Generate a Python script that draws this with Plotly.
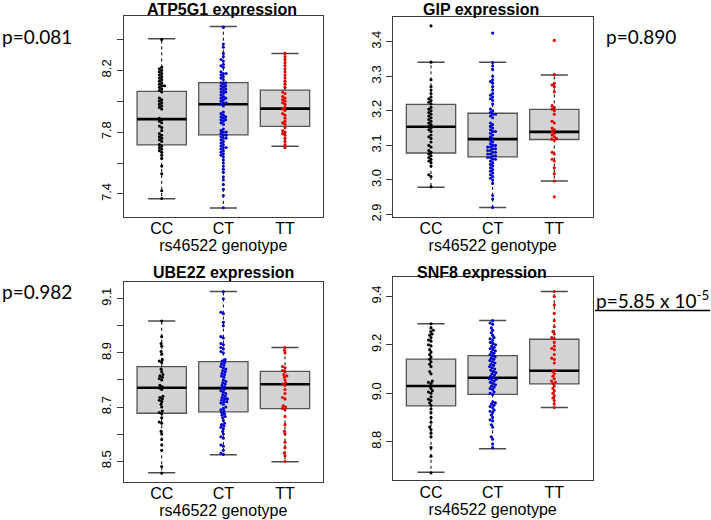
import numpy as np
import plotly.graph_objects as go

W, H = 711, 520
GENOTYPES = ["CC", "CT", "TT"]
POSITIONS = [1, 2, 3]
GROUP_COLORS = ["#000000", "#0000d2", "#e00000"]
X_LABEL = "rs46522 genotype"

# ---------------- ATP5G1 ----------------
ATP5G1_CC = [8.40, 8.22, 8.21, 8.20, 8.19, 8.18, 8.17, 8.16, 8.15, 8.14, 8.13, 8.12, 8.11, 8.10, 8.10,
             8.09, 8.08, 8.07, 8.06, 8.02, 8.01, 8.00, 7.99, 7.98, 7.97, 7.96, 7.95, 7.89, 7.88, 7.87,
             7.86, 7.84, 7.83, 7.81, 7.79, 7.78, 7.77, 7.76, 7.75, 7.74, 7.72, 7.71, 7.70, 7.69, 7.68,
             7.67, 7.65, 7.63, 7.58, 7.53, 7.42, 7.37]
ATP5G1_CT = [8.48, 8.37, 8.35, 8.31, 8.29, 8.27, 8.26, 8.24, 8.23, 8.22, 8.19, 8.18, 8.18, 8.17, 8.16,
             8.15, 8.14, 8.12, 8.12, 8.11, 8.10, 8.10, 8.09, 8.08, 8.08, 8.07, 8.06, 8.06, 8.05, 8.04,
             8.03, 8.02, 8.02, 8.01, 8.00, 7.99, 7.99, 7.98, 7.97, 7.93, 7.92, 7.91, 7.90, 7.90, 7.89,
             7.88, 7.88, 7.87, 7.86, 7.85, 7.82, 7.81, 7.80, 7.80, 7.79, 7.78, 7.78, 7.77, 7.76, 7.76,
             7.75, 7.74, 7.73, 7.72, 7.71, 7.70, 7.70, 7.69, 7.68, 7.67, 7.66, 7.65, 7.64, 7.62, 7.60,
             7.58, 7.56, 7.54, 7.51, 7.49, 7.46, 7.43, 7.39, 7.31]
ATP5G1_TT = [8.31, 8.29, 8.27, 8.25, 8.23, 8.21, 8.19, 8.17, 8.15, 8.13, 8.11, 8.09, 8.06, 8.05, 8.03,
             8.02, 8.01, 8.00, 7.99, 7.98, 7.96, 7.95, 7.94, 7.92, 7.91, 7.89, 7.87, 7.86, 7.85, 7.83,
             7.81, 7.80, 7.79, 7.78, 7.76, 7.74, 7.72, 7.70]
ATP5G1_LOWER = [7.368, 7.308, 7.708]
ATP5G1_Q1 = [7.717, 7.782, 7.837]
ATP5G1_MEDIAN = [7.884, 7.981, 7.952]
ATP5G1_Q3 = [8.064, 8.120, 8.072]
ATP5G1_UPPER = [8.404, 8.484, 8.310]
ATP5G1_TICKS = [7.4, 7.8, 8.2]
ATP5G1_MINOR_TICKS = [7.6, 8.0, 8.4]

# ---------------- GIP ----------------
GIP_CC = [3.446, 3.341, 3.29, 3.27, 3.26, 3.25, 3.24, 3.235, 3.23, 3.225, 3.22, 3.21, 3.205, 3.20,
          3.195, 3.19, 3.185, 3.18, 3.175, 3.17, 3.165, 3.16, 3.155, 3.15, 3.145, 3.14, 3.13, 3.125,
          3.12, 3.11, 3.10, 3.095, 3.085, 3.08, 3.075, 3.07, 3.065, 3.06, 3.055, 3.05, 3.04, 3.015,
          3.01, 2.98]
GIP_CT = [3.425, 3.34, 3.33, 3.32, 3.30, 3.29, 3.285, 3.28, 3.27, 3.26, 3.25, 3.245, 3.24, 3.235,
          3.23, 3.22, 3.205, 3.20, 3.195, 3.19, 3.19, 3.185, 3.18, 3.165, 3.16, 3.155, 3.15, 3.145,
          3.14, 3.14, 3.135, 3.13, 3.125, 3.12, 3.115, 3.11, 3.105, 3.10, 3.10, 3.095, 3.095, 3.09,
          3.09, 3.085, 3.085, 3.08, 3.08, 3.075, 3.075, 3.07, 3.07, 3.065, 3.065, 3.06, 3.06, 3.055,
          3.05, 3.045, 3.04, 3.035, 3.03, 3.025, 3.02, 3.015, 3.01, 3.005, 3.00, 2.99, 2.955, 2.945,
          2.92]
GIP_TT = [3.404, 3.305, 3.28, 3.275, 3.27, 3.255, 3.215, 3.21, 3.205, 3.20, 3.19, 3.17, 3.165, 3.15,
          3.145, 3.14, 3.135, 3.13, 3.125, 3.12, 3.118, 3.115, 3.08, 3.075, 3.06, 3.055, 3.035, 3.018,
          2.997, 2.951]
GIP_LOWER = [2.979, 2.920, 2.997]
GIP_Q1 = [3.078, 3.067, 3.117]
GIP_MEDIAN = [3.154, 3.118, 3.139]
GIP_Q3 = [3.219, 3.193, 3.204]
GIP_UPPER = [3.341, 3.341, 3.304]
GIP_TICKS = [2.9, 3.0, 3.1, 3.2, 3.3, 3.4]
GIP_MINOR_TICKS = []

# ---------------- UBE2Z ----------------
UBE2Z_CC = [9.018, 8.96, 8.935, 8.925, 8.905, 8.895, 8.875, 8.87, 8.865, 8.84, 8.83, 8.82, 8.815,
            8.81, 8.805, 8.80, 8.78, 8.775, 8.77, 8.765, 8.74, 8.735, 8.73, 8.725, 8.72, 8.71, 8.70,
            8.685, 8.68, 8.675, 8.66, 8.645, 8.64, 8.61, 8.60, 8.58, 8.56, 8.54, 8.48, 8.456]
UBE2Z_CT = [9.126, 9.10, 9.05, 9.045, 9.013, 9.00, 8.96, 8.955, 8.935, 8.93, 8.92, 8.915, 8.905, 8.90,
            8.875, 8.87, 8.865, 8.86, 8.855, 8.85, 8.845, 8.84, 8.835, 8.83, 8.825, 8.82, 8.815, 8.81,
            8.80, 8.795, 8.79, 8.785, 8.78, 8.775, 8.77, 8.765, 8.76, 8.755, 8.75, 8.745, 8.74, 8.735,
            8.73, 8.73, 8.725, 8.72, 8.72, 8.715, 8.71, 8.70, 8.695, 8.69, 8.685, 8.68, 8.675, 8.67,
            8.665, 8.66, 8.65, 8.64, 8.635, 8.63, 8.625, 8.62, 8.61, 8.60, 8.59, 8.585, 8.56, 8.555,
            8.54, 8.53, 8.525]
UBE2Z_TT = [8.92, 8.91, 8.90, 8.85, 8.845, 8.835, 8.83, 8.82, 8.815, 8.81, 8.80, 8.79, 8.785, 8.78,
            8.765, 8.75, 8.735, 8.73, 8.705, 8.70, 8.695, 8.69, 8.665, 8.635, 8.61, 8.60, 8.57, 8.55,
            8.53, 8.52, 8.499]
UBE2Z_LOWER = [8.457, 8.524, 8.498]
UBE2Z_Q1 = [8.677, 8.682, 8.694]
UBE2Z_MEDIAN = [8.771, 8.770, 8.784]
UBE2Z_Q3 = [8.849, 8.868, 8.832]
UBE2Z_UPPER = [9.018, 9.127, 8.920]
UBE2Z_TICKS = [8.5, 8.7, 8.9, 9.1]
UBE2Z_MINOR_TICKS = [8.6, 8.8, 9.0]

# ---------------- SNF8 ----------------
SNF8_CC = [9.287, 9.27, 9.26, 9.255, 9.245, 9.24, 9.23, 9.22, 9.215, 9.20, 9.195, 9.18, 9.17, 9.16,
           9.15, 9.14, 9.13, 9.12, 9.11, 9.09, 9.08, 9.05, 9.045, 9.04, 9.03, 9.02, 9.01, 9.005, 9.00,
           8.985, 8.975, 8.97, 8.96, 8.95, 8.935, 8.92, 8.90, 8.88, 8.86, 8.85, 8.835, 8.82, 8.775,
           8.74, 8.671]
SNF8_CT = [9.30, 9.29, 9.285, 9.27, 9.26, 9.25, 9.24, 9.23, 9.225, 9.22, 9.21, 9.205, 9.20, 9.195,
           9.19, 9.185, 9.18, 9.175, 9.17, 9.165, 9.16, 9.155, 9.15, 9.145, 9.14, 9.135, 9.13, 9.125,
           9.12, 9.115, 9.11, 9.105, 9.10, 9.095, 9.09, 9.085, 9.08, 9.075, 9.07, 9.065, 9.06, 9.058,
           9.055, 9.05, 9.045, 9.04, 9.035, 9.03, 9.025, 9.02, 9.015, 9.005, 9.00, 8.995, 8.965, 8.96,
           8.955, 8.95, 8.945, 8.94, 8.93, 8.925, 8.92, 8.91, 8.90, 8.89, 8.885, 8.87, 8.86, 8.82,
           8.81, 8.79, 8.775]
SNF8_TT = [9.42, 9.40, 9.365, 9.33, 9.30, 9.275, 9.255, 9.245, 9.23, 9.225, 9.21, 9.195, 9.185, 9.18,
           9.16, 9.145, 9.14, 9.125, 9.095, 9.09, 9.08, 9.07, 9.06, 9.05, 9.045, 9.04, 9.03, 9.02,
           9.01, 9.00, 8.99, 8.98, 8.97, 8.955, 8.941]
SNF8_LOWER = [8.673, 8.771, 8.941]
SNF8_Q1 = [8.948, 8.995, 9.039]
SNF8_MEDIAN = [9.030, 9.064, 9.093]
SNF8_Q3 = [9.141, 9.155, 9.223]
SNF8_UPPER = [9.287, 9.301, 9.420]
SNF8_TICKS = [8.8, 9.0, 9.2, 9.4]
SNF8_MINOR_TICKS = []

# ---------------- layout of the four panels (pixel boxes) ----------------
X_RANGE = [0.38, 3.62]
panels = [
    dict(title="ATP5G1 expression", groups=[ATP5G1_CC, ATP5G1_CT, ATP5G1_TT],
         stats=(ATP5G1_LOWER, ATP5G1_Q1, ATP5G1_MEDIAN, ATP5G1_Q3, ATP5G1_UPPER),
         yrange=[7.251, 8.555], ticks=ATP5G1_TICKS, minor=ATP5G1_MINOR_TICKS,
         box=(123.5, 15.7, 323.2, 219.0), title_xy=(222, 10),
         pval="p=0.081", pval_xy=(0, 37)),
    dict(title="GIP expression", groups=[GIP_CC, GIP_CT, GIP_TT],
         stats=(GIP_LOWER, GIP_Q1, GIP_MEDIAN, GIP_Q3, GIP_UPPER),
         yrange=[2.893, 3.473], ticks=GIP_TICKS, minor=GIP_MINOR_TICKS,
         box=(392.8, 16.7, 592.5, 219.0), title_xy=(481, 10),
         pval="p=0.890", pval_xy=(604, 37)),
    dict(title="UBE2Z expression", groups=[UBE2Z_CC, UBE2Z_CT, UBE2Z_TT],
         stats=(UBE2Z_LOWER, UBE2Z_Q1, UBE2Z_MEDIAN, UBE2Z_Q3, UBE2Z_UPPER),
         yrange=[8.423, 9.161], ticks=UBE2Z_TICKS, minor=UBE2Z_MINOR_TICKS,
         box=(123.5, 285.0, 323.2, 486.7), title_xy=(223, 275),
         pval="p=0.982", pval_xy=(0, 294)),
    dict(title="SNF8 expression", groups=[SNF8_CC, SNF8_CT, SNF8_TT],
         stats=(SNF8_LOWER, SNF8_Q1, SNF8_MEDIAN, SNF8_Q3, SNF8_UPPER),
         yrange=[8.640, 9.479], ticks=SNF8_TICKS, minor=SNF8_MINOR_TICKS,
         box=(392.8, 280.0, 592.5, 485.0), title_xy=(482, 275),
         pval="p=5.85 x 10<sup>-5</sup>", pval_xy=(594, 302)),
]

AXIS_FONT = "Liberation Sans, Arial, sans-serif"
P_FONT = "Lato, Open Sans, sans-serif"
FRAME = "#3c3c3c"


def swarm_offsets(values, ppu_y, ppu_x, d=2.8):
    """Beeswarm 'swarm' placement in pixel space; returns x offsets in data units."""
    vals = np.asarray(values, dtype=float)
    ys = vals * ppu_y
    order = np.argsort(vals, kind="stable")
    placed = []
    out = np.zeros(len(vals))
    for idx in order:
        y = ys[idx]
        intervals = []
        for py, px in placed:
            dy = abs(y - py)
            if dy < d:
                half = np.sqrt(d * d - dy * dy)
                intervals.append((px - half, px + half))
        cands = [0.0] + [a for a, _ in intervals] + [b for _, b in intervals]
        cands.sort(key=lambda c: (abs(c), c))
        x = 0.0
        for c in cands:
            if all(not (a + 1e-7 < c < b - 1e-7) for a, b in intervals):
                x = c
                break
        placed.append((y, x))
        out[idx] = x / ppu_x
    return out


fig = go.Figure()
annotations = []
shapes = []

for k, p in enumerate(panels, start=1):
    xa = "x" if k == 1 else f"x{k}"
    ya = "y" if k == 1 else f"y{k}"
    x0, y0, x1, y1 = p["box"]
    ppu_x = (x1 - x0) / (X_RANGE[1] - X_RANGE[0])
    ppu_y = (y1 - y0) / (p["yrange"][1] - p["yrange"][0])
    lower, q1, med, q3, upper = p["stats"]

    fig.add_trace(go.Box(
        x=POSITIONS, q1=q1, median=med, q3=q3, lowerfence=q1, upperfence=q3,
        width=0.8, whiskerwidth=0, boxpoints=False, fillcolor="#d3d3d3",
        line=dict(color="#555555", width=1.3), xaxis=xa, yaxis=ya,
        showlegend=False, hoverinfo="skip"))

    wx, wy, cx, cy, mx, my = [], [], [], [], [], []
    for i, pos in enumerate(POSITIONS):
        wx += [pos, pos, None, pos, pos, None]
        wy += [q3[i], upper[i], None, q1[i], lower[i], None]
        cx += [pos - 0.22, pos + 0.22, None, pos - 0.22, pos + 0.22, None]
        cy += [upper[i], upper[i], None, lower[i], lower[i], None]
        mx += [pos - 0.4, pos + 0.4, None]
        my += [med[i], med[i], None]
    fig.add_trace(go.Scatter(x=wx, y=wy, mode="lines", xaxis=xa, yaxis=ya,
                             line=dict(color="#000000", width=1, dash="dot"),
                             showlegend=False, hoverinfo="skip"))
    fig.add_trace(go.Scatter(x=cx, y=cy, mode="lines", xaxis=xa, yaxis=ya,
                             line=dict(color="#4a4a4a", width=1.5),
                             showlegend=False, hoverinfo="skip"))
    fig.add_trace(go.Scatter(x=mx, y=my, mode="lines", xaxis=xa, yaxis=ya,
                             line=dict(color="#000000", width=2.6),
                             showlegend=False, hoverinfo="skip"))

    for i, (vals, col) in enumerate(zip(p["groups"], GROUP_COLORS)):
        offs = swarm_offsets(vals, ppu_y, ppu_x)
        fig.add_trace(go.Scatter(
            x=POSITIONS[i] + offs, y=vals, mode="markers", xaxis=xa, yaxis=ya,
            marker=dict(color=col, size=3.1, line=dict(width=0)),
            showlegend=False, hoverinfo="skip"))

    xkey = "xaxis" if k == 1 else f"xaxis{k}"
    ykey = "yaxis" if k == 1 else f"yaxis{k}"
    fig.layout[xkey] = dict(
        domain=[x0 / W, x1 / W], anchor=ya, range=X_RANGE,
        tickvals=POSITIONS, ticktext=GENOTYPES, ticks="", ticklabelstandoff=-3,
        tickfont=dict(family=AXIS_FONT, size=16, color="#000000"),
        showline=True, mirror=True, linecolor=FRAME, linewidth=1,
        showgrid=False, zeroline=False, fixedrange=True,
        title=dict(text=X_LABEL, standoff=0,
                   font=dict(family=AXIS_FONT, size=16, color="#000000")))
    yax = dict(
        domain=[1 - y1 / H, 1 - y0 / H], anchor=xa, range=p["yrange"],
        tickvals=p["ticks"], ticktext=[f"{v:.1f}" for v in p["ticks"]], tickangle=-90,
        ticks="outside", ticklen=6, tickcolor=FRAME, tickwidth=1,
        tickfont=dict(family=AXIS_FONT, size=13, color="#000000"),
        showline=True, mirror=True, linecolor=FRAME, linewidth=1,
        showgrid=False, zeroline=False, fixedrange=True)
    if p["minor"]:
        yax["minor"] = dict(tickvals=p["minor"], ticks="outside", ticklen=6,
                            tickcolor=FRAME, tickwidth=1, showgrid=False)
    fig.layout[ykey] = yax

    tx, ty = p["title_xy"]
    annotations.append(dict(
        text=f"<b>{p['title']}</b>", x=tx / W, y=1 - ty / H, xref="paper", yref="paper",
        xanchor="center", yanchor="middle", showarrow=False,
        font=dict(family=AXIS_FONT, size=16, color="#000000")))
    px_, py_ = p["pval_xy"]
    annotations.append(dict(
        text=p["pval"], x=px_ / W, y=1 - py_ / H, xref="paper", yref="paper",
        xanchor="left", yanchor="middle", showarrow=False,
        font=dict(family=P_FONT, size=19, color="#000000")))

shapes.append(dict(type="line", xref="paper", yref="paper",
                   x0=595 / W, x1=710 / W, y0=1 - 313.5 / H, y1=1 - 313.5 / H,
                   line=dict(color="#000000", width=1.5)))

fig.update_layout(
    width=W, height=H, margin=dict(l=0, r=0, t=0, b=0),
    paper_bgcolor="#ffffff", plot_bgcolor="#ffffff",
    annotations=annotations, shapes=shapes, showlegend=False)

fig.write_html("out.html", config={"displayModeBar": False},
               post_script="document.body.style.margin='0px';document.body.style.overflow='hidden';")
